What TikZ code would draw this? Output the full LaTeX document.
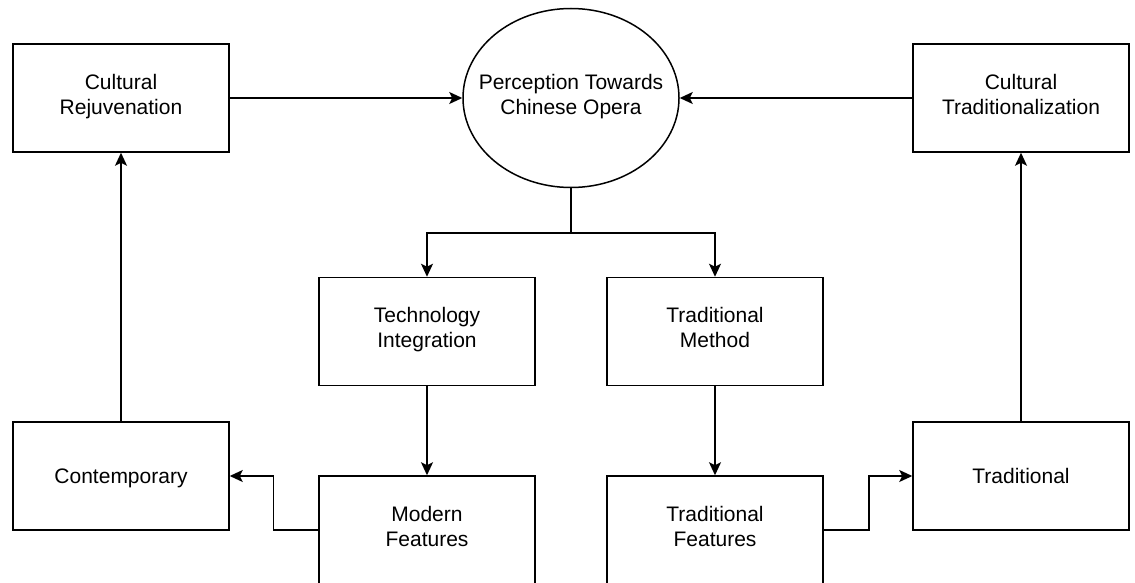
\documentclass[tikz,border=0pt]{standalone}
\usepackage{fontspec}
\setmainfont{Liberation Sans}
\usetikzlibrary{arrows.meta,shapes.geometric}
% invisible rule that balances cap height against descenders
\newcommand{\capbalance}{\rule[-8pt]{0pt}{31pt}}
\begin{document}
\begin{tikzpicture}[x=1pt,y=-1pt,
  label text/.style={align=center,font=\fontsize{21}{25}\selectfont,
    execute at begin node=\capbalance, execute at end node=\capbalance},
  box/.style={draw,line width=1.5pt,minimum width=216pt,minimum height=108pt,
    inner sep=0pt,label text},
  oval/.style={draw,ellipse,line width=1.5pt,minimum width=216pt,minimum height=179pt,
    inner xsep=-22pt,inner ysep=-10pt,label text},
  link/.style={line width=1.5pt},
  arr/.style={link,-{Stealth[length=13pt,width=12pt,inset=3pt]}}]
\useasboundingbox (0,0) rectangle (1135,583);

% top row
\node[box]  (cr) at (121,98)  {Cultural\\Rejuvenation};
\node[oval] (pe) at (571,98)  {Perception Towards\\Chinese Opera};
\node[box]  (ct) at (1021,98) {Cultural\\Traditionalization};

% middle row
\node[box] (ti) at (427,331.5) {Technology\\Integration};
\node[box] (tm) at (715,331.5) {Traditional\\Method};

% lower rows
\node[box] (co) at (121,476)  {Contemporary};
\node[box] (tr) at (1021,476) {Traditional};
\node[box] (mf) at (427,530)  {Modern\\Features};
\node[box] (tf) at (715,530)  {Traditional\\Features};

% connectors
\draw[arr] (cr) -- (pe);
\draw[arr] (ct) -- (pe);
\coordinate (split) at (571,233);
\draw[link] (pe.south) -- (split);
\draw[arr] (split) -| (ti.north);
\draw[arr] (split) -| (tm.north);
\draw[arr] (ti) -- (mf);
\draw[arr] (tm) -- (tf);
\draw[arr] (mf.west) -- ++(-45,0) |- (co.east);
\draw[arr] (tf.east) -- ++(45,0) |- (tr.west);
\draw[arr] (co) -- (cr);
\draw[arr] (tr) -- (ct);
\end{tikzpicture}
\end{document}
